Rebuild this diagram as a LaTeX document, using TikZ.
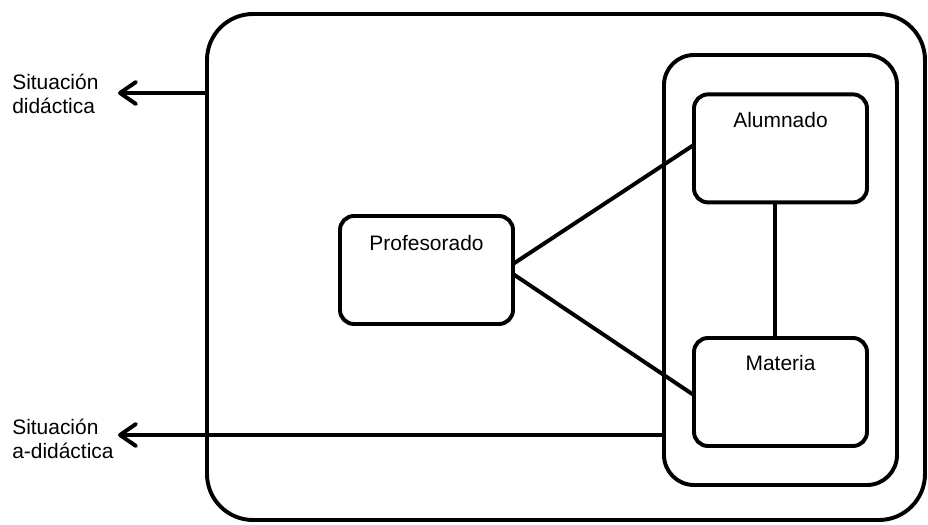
\documentclass[tikz,border=0pt]{standalone}
\usepackage{fontspec}
\setmainfont{Liberation Sans}
\usetikzlibrary{arrows.meta}

\begin{document}
\begin{tikzpicture}[
    box/.style={draw, line width=2.8pt, rounded corners=0.35cm, outer sep=0pt,
      minimum width=4.325cm, minimum height=2.7cm},
    link/.style={line width=2.8pt},
    arrow/.style={line width=2.8pt, -{Straight Barb[length=4mm,width=5.5mm,round]}},
    font=\fontsize{14.9}{17.1}\selectfont
  ]
  \useasboundingbox (0,0) rectangle (23.2,13.1);

  % Situacion didactica
  \node[draw, line width=2.8pt, rounded corners=1.15cm, outer sep=0pt,
    minimum width=17.95cm, minimum height=12.65cm] (didactica) at (14.15,6.425) {};

  % Sistema
  \node[draw, line width=2.8pt, rounded corners=0.75cm, outer sep=0pt,
    minimum width=5.825cm, minimum height=10.75cm] (sistema) at (19.5125,6.35) {};

  % Alumnado, Materia, Profesorado
  \node[box, label={[anchor=center, yshift=-0.65cm]north:Alumnado}] (alumnado) at (19.5125,9.39) {};
  \node[box, label={[anchor=center, yshift=-0.63cm]north:Materia}] (materia) at (19.5125,3.3) {};
  \node[box, label={[anchor=center, yshift=-0.68cm]north:Profesorado}] (profesorado) at (10.6625,6.35) {};

  % Links
  \draw[link] ([yshift=0.15cm]profesorado.east) -- ([yshift=0.09cm]alumnado.west);
  \draw[link] ([yshift=-0.1cm]profesorado.east) -- ([yshift=-0.08cm]materia.west);
  \draw[link] ([xshift=-0.14cm]alumnado.south) -- ([xshift=-0.14cm]materia.north);

  % Arrows out
  \coordinate (tip1) at (2.95,10.775);
  \coordinate (tip2) at (2.95,2.225);
  \draw[arrow] (didactica.west |- tip1) -- (tip1);
  \draw[arrow] (sistema.west |- tip2) -- (tip2);
  \node[align=left, anchor=west, inner sep=0pt] (txt1) at (0.3,10.75) {Situación\\didáctica};
  \node[align=left, anchor=west, inner sep=0pt] (txt2) at (0.3,2.13) {Situación\\a-didáctica};
\end{tikzpicture}
\end{document}
